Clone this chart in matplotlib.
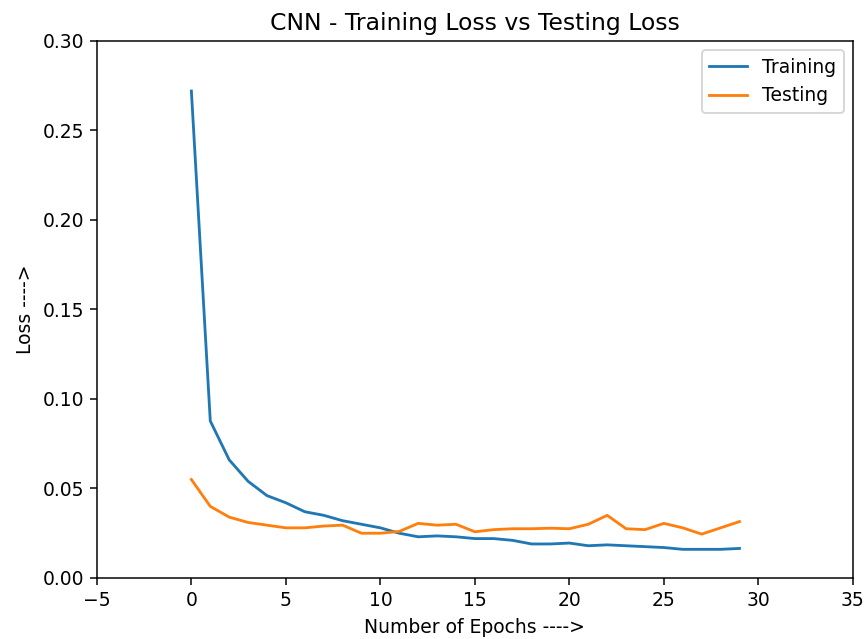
import matplotlib
matplotlib.use("Agg")
import matplotlib.pyplot as plt

epochs = list(range(30))
training_loss = [0.272, 0.0877, 0.066, 0.054, 0.046, 0.042, 0.037, 0.035, 0.032, 0.030,
                 0.028, 0.025, 0.023, 0.0235, 0.023, 0.022, 0.022, 0.021, 0.019, 0.019,
                 0.0195, 0.018, 0.0185, 0.018, 0.0175, 0.017, 0.016, 0.016, 0.016, 0.0165]
testing_loss = [0.055, 0.040, 0.034, 0.031, 0.0295, 0.028, 0.028, 0.029, 0.0295, 0.025,
                0.025, 0.026, 0.0305, 0.0295, 0.030, 0.0258, 0.027, 0.0275, 0.0275, 0.0278,
                0.0275, 0.030, 0.035, 0.0275, 0.027, 0.0305, 0.028, 0.0245, 0.028, 0.0315]

fig = plt.figure(figsize=(865/135, 639/135), dpi=135)
ax = fig.add_axes([0.112, 0.0955, 0.874, 0.8405])
ax.plot(epochs, training_loss, label="Training")
ax.plot(epochs, testing_loss, label="Testing")
ax.set_xlim(-5, 35)
ax.set_ylim(0, 0.30)
ax.set_title("CNN - Training Loss vs Testing Loss", fontsize=12.5)
ax.set_xlabel("Number of Epochs ---->")
ax.set_ylabel("Loss ---->")
ax.legend(loc="upper right")
fig.savefig("out.png", dpi=135)
